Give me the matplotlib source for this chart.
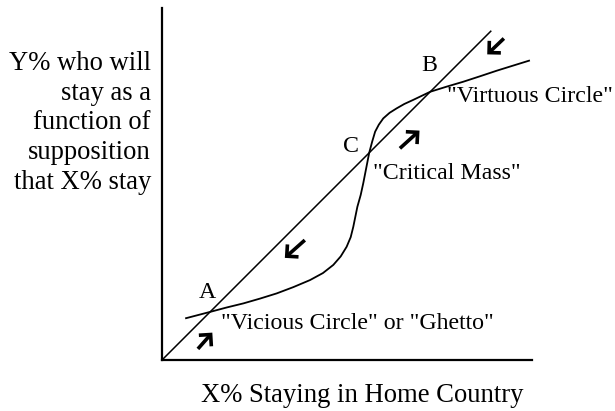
import matplotlib
matplotlib.use("Agg")
import matplotlib.pyplot as plt

plt.rcParams["font.family"] = ["Liberation Serif", "DejaVu Serif"]

# 45-degree line (Y = X)
diag_x = [0, 89]
diag_y = [0, 89]

# S-shaped response curve
curve_x = [6.5, 13.0, 17.5, 22.0, 26.5, 31.0, 35.5, 40.0, 43.5, 46.3, 48.3, 49.9,
           51.0, 51.7, 52.8, 53.7, 54.4, 55.2, 56.0, 56.8, 57.6, 58.6, 59.8, 61.5,
           63.4, 65.5, 67.9, 70.2, 72.5, 77.0, 81.4, 86.0, 90.5, 95.0, 99.2]
curve_y = [11.3, 13.0, 14.2, 15.3, 16.6, 18.0, 19.7, 21.6, 23.5, 25.7, 28.0, 30.6,
           33.2, 36.0, 41.4, 44.6, 47.8, 51.9, 56.0, 59.0, 61.7, 63.6, 65.3, 66.8,
           68.0, 69.2, 70.3, 71.4, 72.5, 73.9, 75.2, 76.7, 78.2, 79.6, 80.9]

# equilibrium points
point_labels = ["A", "C", "B"]
point_xy = [(13.0, 13.0), (56.0, 56.0), (72.5, 72.5)]

# direction arrows along the 45-degree line: (tail, head)
arrow_tails = [(9.7, 3.0), (38.6, 32.4), (64.3, 57.2), (92.4, 86.9)]
arrow_heads = [(13.6, 7.4), (33.2, 27.6), (69.6, 62.0), (87.9, 82.6)]

fig = plt.figure(figsize=(6.15, 4.11), dpi=100)
ax = fig.add_axes([162 / 615, 51 / 411, 370 / 615, 351.5 / 411])
ax.set_xlim(0, 100)
ax.set_ylim(0, 95)

for side in ["top", "right"]:
    ax.spines[side].set_visible(False)
for side in ["left", "bottom"]:
    ax.spines[side].set_linewidth(1.6)
ax.set_xticks([])
ax.set_yticks([])

ax.plot(diag_x, diag_y, color="black", lw=1.1, solid_capstyle="butt")
ax.plot(curve_x, curve_y, color="black", lw=1.3)

for tail, head in zip(arrow_tails, arrow_heads):
    ax.annotate("", xy=head, xytext=tail,
                arrowprops=dict(arrowstyle="->,head_length=0.6,head_width=0.6",
                                lw=2.6, color="black", shrinkA=0, shrinkB=0,
                                joinstyle="miter", capstyle="butt"))

fs_in = 17.2
fs_axis = 19.2
label_offsets = {"A": (-0.6, 5.3), "C": (-5.0, 1.8), "B": (-0.3, 7.0)}
for name, (px, py) in zip(point_labels, point_xy):
    dx, dy = label_offsets[name]
    ax.text(px + dx, py + dy, name, fontsize=fs_in, ha="center", va="center")

ax.text(16.0, 10.0, '"Vicious Circle" or "Ghetto"', fontsize=fs_in, ha="left", va="center")
ax.text(57.0, 50.5, '"Critical Mass"', fontsize=fs_in, ha="left", va="center")
ax.text(77.0, 71.2, '"Virtuous Circle"', fontsize=fs_in, ha="left", va="center",
        clip_on=False)

ax.text(-3.0, 64.1, "Y% who will\nstay as a\nfunction of\nsupposition\nthat X% stay",
        fontsize=fs_axis, ha="right", va="center", multialignment="right",
        linespacing=1.25, clip_on=False)
ax.text(54.0, -9.5, "X% Staying in Home Country", fontsize=fs_axis, ha="center",
        va="center", clip_on=False)

fig.savefig("out.png", dpi=100)
